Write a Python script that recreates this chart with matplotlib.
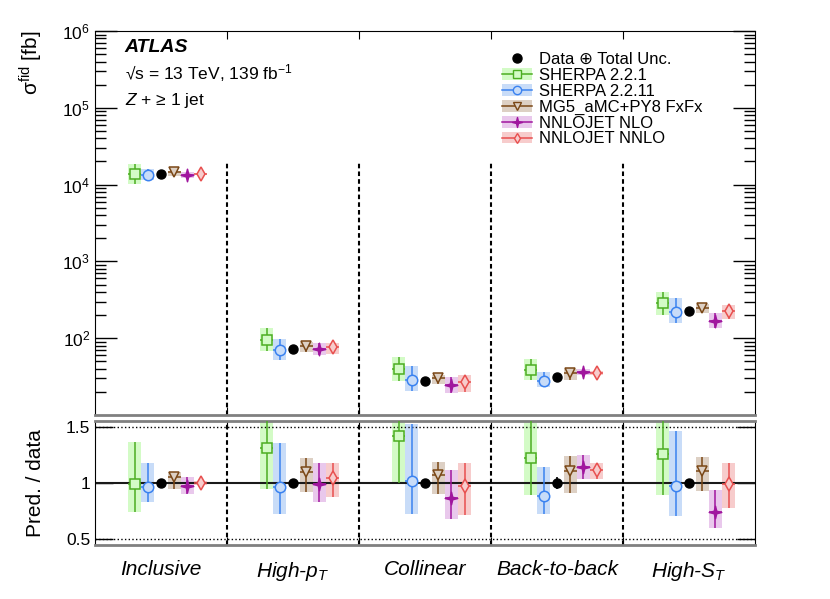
import numpy as np
import matplotlib
matplotlib.use('Agg')
import matplotlib.pyplot as plt
from matplotlib.patches import Patch
from matplotlib.lines import Line2D
from matplotlib.path import Path

plt.rcParams['font.family'] = ['Liberation Sans', 'DejaVu Sans']
plt.rcParams['mathtext.fontset'] = 'custom'
plt.rcParams['mathtext.rm'] = 'Liberation Sans'
plt.rcParams['mathtext.it'] = 'Liberation Sans:italic'
plt.rcParams['mathtext.bf'] = 'Liberation Sans:bold'

# categories and measured cross sections [fb]
categories = ['Inclusive', 'High-$p_{T}$', 'Collinear', 'Back-to-back', 'High-$S_{T}$']
data_xs = np.array([13700., 72.6, 28.1, 31.7, 226.])
data_unc = np.array([0.035, 0.04, 0.04, 0.056, 0.04])   # relative total unc.

# predictions as ratio to data: central, lower, upper
sherpa221 = [0.99, 1.315, 1.42, 1.22, 1.256]
sherpa221_lo = [0.74, 0.945, 1.0, 0.89, 0.89]
sherpa221_hi = [1.366, 1.86, 2.05, 1.68, 1.78]

sherpa2211 = [0.96, 0.965, 1.018, 0.887, 0.976]
sherpa2211_lo = [0.83, 0.72, 0.72, 0.726, 0.70]
sherpa2211_hi = [1.18, 1.357, 1.53, 1.143, 1.467]

mg5 = [1.056, 1.095, 1.07, 1.107, 1.107]
mg5_lo = [0.95, 0.92, 0.905, 0.91, 0.93]
mg5_hi = [1.10, 1.22, 1.185, 1.244, 1.235]

nlo = [0.97, 0.99, 0.866, 1.14, 0.738]
nlo_lo = [0.90, 0.83, 0.68, 1.04, 0.595]
nlo_hi = [1.05, 1.176, 1.116, 1.25, 0.94]

nnlo = [1.0, 1.045, 0.97, 1.116, 0.994]
nnlo_lo = [0.98, 0.87, 0.71, 1.04, 0.78]
nnlo_hi = [1.02, 1.18, 1.18, 1.18, 1.18]

names = ['SHERPA 2.2.1', 'SHERPA 2.2.11', 'MG5_aMC+PY8 FxFx', 'NNLOJET NLO', 'NNLOJET NNLO']
cen = [sherpa221, sherpa2211, mg5, nlo, nnlo]
low = [sherpa221_lo, sherpa2211_lo, mg5_lo, nlo_lo, nnlo_lo]
upp = [sherpa221_hi, sherpa2211_hi, mg5_hi, nlo_hi, nnlo_hi]
offsets = [-0.2, -0.1, 0.1, 0.2, 0.3]
colors = ['#4cae22', '#3a82f0', '#7a4716', '#a0169e', '#e8504f']
bands = ['#d3fbc6', '#c8dcf8', '#ddd0c4', '#e9c8ec', '#f7cccc']
thin_star = Path.unit_regular_star(4, innerCircle=0.28)
markers = ['s', 'o', 'v', thin_star, 'd']
msizes = [6.5, 7.5, 7.5, 9, 7]
filled = [False, False, False, True, False]

fig = plt.figure(figsize=(8.3, 5.99), dpi=100)
ax1 = fig.add_axes([0.1145, 0.3072, 0.7952, 0.6410])
ax2 = fig.add_axes([0.1145, 0.0902, 0.7952, 0.2070])

xc = np.arange(len(categories)) + 0.5
ones = np.ones(len(categories))

for k in range(len(names)):
    xs = xc + offsets[k]
    r = np.array(cen[k]); lo = np.array(low[k]); hi = np.array(upp[k])
    mfc = colors[k] if filled[k] else bands[k]
    for ax, scale in ((ax1, data_xs), (ax2, ones)):
        c = r * scale; l = lo * scale; h = hi * scale
        ax.bar(xs, h - l, bottom=l, width=0.1, color=bands[k], linewidth=0, zorder=1)
        ax.errorbar(xs, c, yerr=[c - l, h - c], xerr=0.05, fmt='none',
                    ecolor=colors[k], elinewidth=1.1, capsize=0, zorder=3)
        ax.plot(xs, c, linestyle='none', marker=markers[k], ms=msizes[k],
                mfc=mfc, mec=colors[k], mew=1.1, zorder=4)

# data
ax1.errorbar(xc, data_xs, yerr=data_xs * data_unc, fmt='o', color='k', ms=6.5,
             capsize=0, elinewidth=1.2, zorder=5)
ax2.errorbar(xc, ones, yerr=data_unc, fmt='o', color='k', ms=6.5,
             capsize=0, elinewidth=1.2, zorder=5)

# top panel
ax1.set_yscale('log')
ax1.set_ylim(10, 1e6)
ax1.set_xlim(0, 5)
ax1.set_yticks([1e2, 1e3, 1e4, 1e5, 1e6])
ax1.vlines([1, 2, 3, 4], 10, 2e4, colors='k', linestyles=(0, (2.2, 1.5)), lw=1.5, zorder=2)
ax1.set_xticks([1, 2, 3, 4])
ax1.tick_params(axis='x', which='both', direction='in', top=True, bottom=True,
                length=6, labelbottom=False)
ax1.tick_params(axis='y', which='major', direction='in', left=True, right=True,
                length=16, width=1, labelsize=12.5)
ax1.tick_params(axis='y', which='minor', direction='in', left=True, right=True,
                length=8, width=1)
ax1.spines['bottom'].set_color('0.5')
ax1.spines['bottom'].set_linewidth(2)
ax1.set_ylabel('σ$^{\\mathrm{fid}}$ [fb]', fontsize=15, loc='top')
ax1.yaxis.set_label_coords(-0.076, 1.0)

ax1.text(0.045, 0.958, 'ATLAS', transform=ax1.transAxes, fontsize=14,
         fontweight='bold', style='italic', va='center')
ax1.text(0.045, 0.89, '√s = 13 TeV, 139 fb$^{-1}$', transform=ax1.transAxes,
         fontsize=12.5, va='center')
ax1.text(0.045, 0.82, '$Z$ + ≥ 1 jet', transform=ax1.transAxes,
         fontsize=12.5, va='center')

handles = [Line2D([], [], linestyle='none', marker='o', color='k', ms=6.5)]
for k in range(len(names)):
    mfc = colors[k] if filled[k] else bands[k]
    handles.append((Patch(facecolor=bands[k], edgecolor='none'),
                    Line2D([], [], color=colors[k], lw=1.1, marker=markers[k],
                           ms=msizes[k] * 0.8, mfc=mfc, mec=colors[k])))
labels = ['Data ⊕ Total Unc.'] + names
ax1.legend(handles, labels, loc='upper left', bbox_to_anchor=(0.617, 0.945),
           frameon=False, fontsize=12, handlelength=1.8, handletextpad=0.4,
           labelspacing=0.05, borderpad=0, borderaxespad=0)

# ratio panel
ax2.set_xlim(0, 5)
ax2.set_ylim(0.445, 1.555)
ax2.axhline(1, color='0.1', lw=1.5, zorder=2)
ax2.axhline(1.5, color='k', lw=1, ls=':', zorder=2)
ax2.axhline(0.5, color='k', lw=1, ls=':', zorder=2)
for xb in [1, 2, 3, 4]:
    ax2.axvline(xb, color='k', ls=(0, (2.2, 1.5)), lw=1.5, zorder=2)
ax2.set_yticks([0.5, 1, 1.5], ['0.5', '1', '1.5'])
ax2.tick_params(axis='y', which='major', direction='in', left=True, right=True,
                length=13, width=1, labelsize=12.5)
ax2.set_xticks([1, 2, 3, 4])
ax2.set_xticks(xc, minor=True)
ax2.set_xticklabels([])
ax2.set_xticklabels(categories, minor=True, fontsize=15, style='italic')
ax2.tick_params(axis='x', which='major', direction='in', top=True, bottom=True, length=6)
ax2.tick_params(axis='x', which='minor', length=0, pad=11)
for s in ['top', 'bottom']:
    ax2.spines[s].set_color('0.5')
    ax2.spines[s].set_linewidth(2)
ax2.set_ylabel('Pred. / data', fontsize=15)
ax2.yaxis.set_label_coords(-0.076, 0.5)

fig.savefig('out.png', dpi=100)
